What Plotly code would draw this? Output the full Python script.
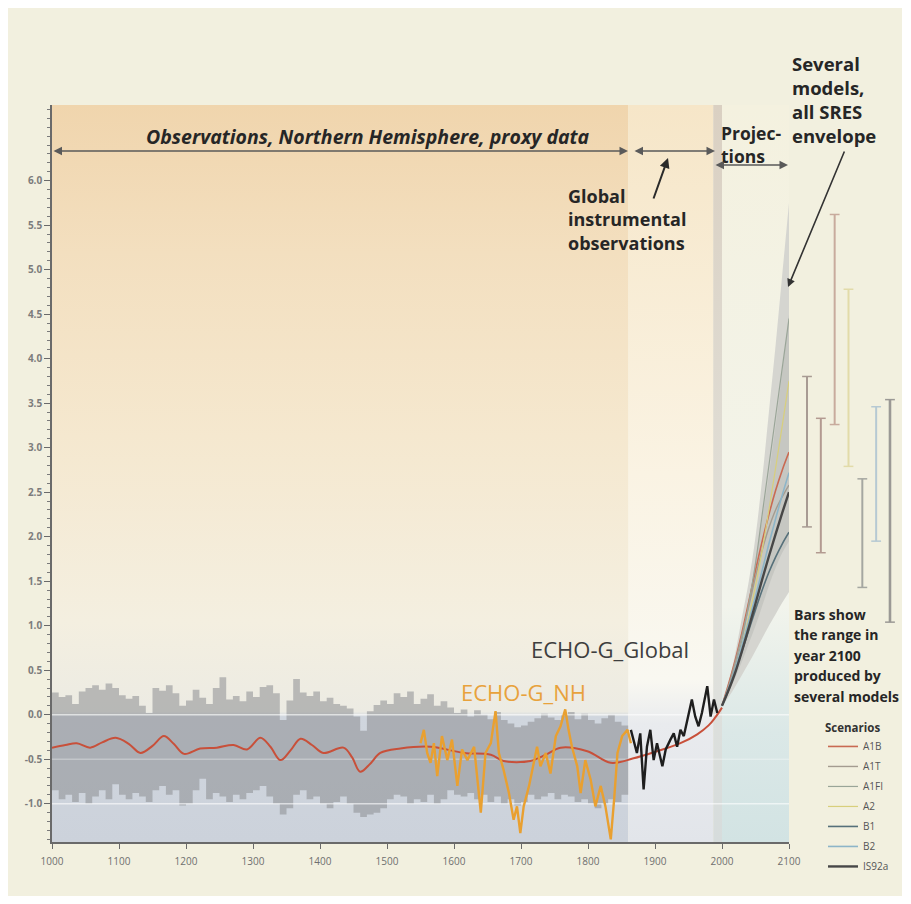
import plotly.graph_objects as go

# ---------------- data ----------------
PROXY_YEARS = list(range(1000, 1861, 10))
PROXY_UPPER = [
    0.25, 0.20, 0.22, 0.12, 0.26, 0.30, 0.33, 0.28, 0.35, 0.30,
    0.22, 0.18, 0.21, 0.10, 0.02, 0.30, 0.27, 0.33, 0.24, 0.10,
    0.16, 0.28, 0.19, 0.12, 0.30, 0.42, 0.17, 0.21, 0.15, 0.26,
    0.20, 0.31, 0.33, 0.24, -0.06, 0.16, 0.40, 0.25, 0.21, 0.26,
    0.15, 0.19, 0.12, 0.10, 0.07, -0.02, -0.18, 0.04, 0.11, 0.16,
    0.12, 0.24, 0.20, 0.26, 0.12, 0.18, 0.23, 0.10, 0.15, 0.08,
    0.02, 0.06, -0.02, 0.05, 0.00, -0.05, 0.03, -0.06, -0.10, -0.14,
    -0.12, -0.08, -0.04, 0.01, -0.03, -0.06, 0.00, 0.03, -0.05, 0.01,
    -0.06, -0.10, -0.04, 0.00, -0.08, -0.12, -0.15,
]
PROXY_LOWER = [
    -0.85, -0.95, -0.90, -0.98, -0.88, -1.00, -0.92, -0.85, -0.95, -0.78,
    -0.90, -0.95, -0.88, -0.92, -0.98, -0.85, -0.80, -0.90, -0.85, -1.02,
    -1.00, -0.85, -0.72, -0.95, -0.88, -0.92, -0.98, -0.90, -0.95, -0.88,
    -0.85, -0.80, -0.92, -1.00, -1.12, -1.05, -0.90, -0.85, -0.95, -0.92,
    -1.00, -1.05, -0.98, -0.92, -1.00, -1.10, -1.15, -1.12, -1.10, -1.05,
    -0.95, -0.90, -0.92, -1.00, -0.95, -0.98, -0.90, -1.00, -0.95, -0.85,
    -0.90, -0.92, -0.88, -0.95, -0.90, -0.98, -0.92, -1.00, -0.95, -1.02,
    -0.98, -0.90, -0.95, -0.92, -0.88, -0.95, -0.90, -0.92, -0.98, -0.95,
    -1.00, -1.05, -1.00, -0.95, -0.98, -0.90, -0.85,
]

RECON_YEARS = [1000, 1020, 1037, 1057, 1075, 1095, 1115, 1132, 1150, 1167,
               1182, 1197, 1221, 1246, 1271, 1291, 1311, 1326, 1341, 1356,
               1371, 1388, 1405, 1435, 1448, 1460, 1475, 1490, 1520, 1565,
               1615, 1655, 1674, 1714, 1737, 1759, 1799, 1834, 1868, 1903,
               1938, 1963, 1980, 1990, 2000]
RECON_VALUES = [-0.37, -0.34, -0.32, -0.37, -0.31, -0.26, -0.33, -0.43, -0.35, -0.24,
                -0.33, -0.44, -0.38, -0.37, -0.34, -0.39, -0.26, -0.36, -0.51, -0.40,
                -0.27, -0.34, -0.43, -0.37, -0.48, -0.64, -0.55, -0.43, -0.38, -0.36,
                -0.43, -0.45, -0.52, -0.52, -0.45, -0.37, -0.41, -0.54, -0.49, -0.41,
                -0.32, -0.22, -0.12, -0.03, 0.08]

NH_YEARS = [1550, 1555, 1560, 1565, 1570, 1575, 1582, 1590, 1597, 1605,
            1612, 1620, 1630, 1640, 1647, 1655, 1662, 1667, 1674, 1682,
            1689, 1694, 1699, 1704, 1712, 1719, 1724, 1729, 1737, 1744,
            1752, 1759, 1766, 1771, 1776, 1784, 1789, 1796, 1804, 1811,
            1819, 1826, 1834, 1839, 1844, 1851, 1859, 1864]
NH_VALUES = [-0.32, -0.17, -0.43, -0.54, -0.32, -0.69, -0.24, -0.51, -0.28, -0.80,
             -0.39, -0.51, -0.36, -1.10, -0.43, -0.32, 0.04, -0.43, -0.62, -0.88,
             -1.18, -1.03, -1.33, -1.03, -0.80, -0.54, -0.36, -0.58, -0.43, -0.66,
             -0.24, -0.13, 0.06, -0.17, -0.36, -0.58, -0.88, -0.51, -0.73, -1.03,
             -0.80, -1.03, -1.40, -0.95, -0.43, -0.24, -0.17, -0.32]

GLOBAL_YEARS = [1864, 1868, 1873, 1878, 1883, 1888, 1893, 1898, 1903, 1911,
                1916, 1923, 1928, 1933, 1938, 1943, 1948, 1955, 1960, 1965,
                1970, 1978, 1983, 1988, 1993]
GLOBAL_VALUES = [-0.17, -0.28, -0.43, -0.21, -0.84, -0.36, -0.17, -0.51, -0.32, -0.58,
                 -0.39, -0.28, -0.21, -0.36, -0.17, -0.24, -0.06, 0.17, -0.02, -0.13,
                 0.02, 0.32, -0.02, 0.17, 0.02]

PROJ_YEARS = [2000, 2010, 2020, 2030, 2040, 2050, 2060, 2070, 2080, 2090, 2100]
ENV_UPPER = [0.10, 0.35, 0.70, 1.10, 1.50, 2.00, 2.65, 3.40, 4.15, 4.95, 5.75]
ENV_LOWER = [0.10, 0.20, 0.32, 0.45, 0.58, 0.72, 0.86, 1.00, 1.13, 1.26, 1.38]
ENS_UPPER = [0.10, 0.30, 0.58, 0.92, 1.30, 1.72, 2.20, 2.70, 3.25, 3.85, 4.50]
ENS_LOWER = [0.10, 0.25, 0.42, 0.60, 0.80, 1.00, 1.22, 1.45, 1.65, 1.82, 1.95]

SCENARIOS = ["A1B", "A1T", "A1FI", "A2", "B1", "B2", "IS92a"]
A1B = [0.10, 0.35, 0.62, 0.93, 1.27, 1.62, 1.95, 2.25, 2.52, 2.75, 2.95]
A1T = [0.10, 0.33, 0.60, 0.90, 1.22, 1.55, 1.85, 2.10, 2.30, 2.45, 2.58]
A1FI = [0.10, 0.30, 0.55, 0.85, 1.25, 1.70, 2.25, 2.80, 3.35, 3.90, 4.45]
A2 = [0.10, 0.28, 0.50, 0.78, 1.10, 1.45, 1.85, 2.30, 2.77, 3.25, 3.75]
B1 = [0.10, 0.28, 0.50, 0.72, 0.95, 1.18, 1.40, 1.60, 1.77, 1.92, 2.05]
B2 = [0.10, 0.30, 0.52, 0.78, 1.05, 1.33, 1.62, 1.92, 2.20, 2.47, 2.72]
IS92A = [0.10, 0.28, 0.48, 0.72, 0.98, 1.25, 1.52, 1.78, 2.03, 2.27, 2.50]
SCEN_VALUES = [A1B, A1T, A1FI, A2, B1, B2, IS92A]

BAR_LOW = [2.11, 1.82, 3.26, 2.79, 1.43, 1.95, 1.04]
BAR_HIGH = [3.80, 3.33, 5.62, 4.78, 2.65, 3.46, 3.54]

Y_TICKS = [-1.0, -0.5, 0.0, 0.5, 1.0, 1.5, 2.0, 2.5, 3.0, 3.5, 4.0, 4.5, 5.0, 5.5, 6.0]
Y_TICK_LABELS = ["-1.0", "-0.5", "0.0", "0.5", "1.0", "1.5", "2.0", "2.5", "3.0",
                 "3.5", "4.0", "4.5", "5.0", "5.5", "6.0"]
X_TICKS = [1000, 1100, 1200, 1300, 1400, 1500, 1600, 1700, 1800, 1900, 2000, 2100]
X_TICK_LABELS = [str(v) for v in X_TICKS]

ERA_BOUNDS = [1000, 1860, 1987, 2000, 2100]
GRID_LEVELS = [0.0, -0.5, -1.0]

# ---------------- geometry (screen pixels; the page body adds an 8px margin) ----------------
OFF = 8
SCREEN_W, SCREEN_H = 911, 904
W, H = SCREEN_W - 2 * OFF, SCREEN_H - 2 * OFF
S_LEFT, S_TOP, S_BOTTOM, S_RIGHT = 52, 105, 842, 902
M_L, M_T = S_LEFT - OFF, S_TOP - OFF
M_B = (OFF + H) - S_BOTTOM
M_R = (OFF + W) - S_RIGHT
PLOT_W = S_RIGHT - S_LEFT
PLOT_H = S_BOTTOM - S_TOP
MAIN_PX = 737
Y_MIN, Y_MAX = -1.43, 6.85
BAR_PX0, BAR_STEP, BAR_AXIS_PX0 = 807, 13.83, 795
FONT = "Open Sans"


def px(sx):
    return (sx - S_LEFT) / PLOT_W


def py(sy):
    return (S_BOTTOM - sy) / PLOT_H


def yr(sx):
    return 1000 + (sx - S_LEFT) * 1100.0 / MAIN_PX


def val(sy):
    return Y_MAX - (sy - S_TOP) * (Y_MAX - Y_MIN) / PLOT_H


SCEN_COLORS = ["#c96a52", "#a49c90", "#9aa598", "#d8cf7c", "#56707a", "#8db5c8", "#474747"]
SCEN_WIDTHS = [1.6, 1.4, 1.2, 1.2, 1.6, 1.6, 2.4]
BAR_COLORS = ["#a89b93", "#b39a91", "#c8ab9d", "#e2dba9", "#a5a7a1", "#b6c9d3", "#9b9995"]
BAR_WIDTHS = [2, 2, 2, 2, 2, 2, 2.6]

BG_SCALES = [
    [[0, "#ccd2db"], [0.170, "#d0d6de"], [0.177, "#ecebe3"], [0.30, "#f4efe0"],
     [0.55, "#f5e8cf"], [0.80, "#f3dfbf"], [1, "#f0d5ad"]],
    [[0, "#e2e5ea"], [0.16, "#e9ebee"], [0.22, "#f9f8f1"], [0.5, "#faf3e3"], [1, "#f6e6c8"]],
    [[0, "#d6dcdc"], [0.3, "#e2e2dc"], [1, "#dad0c2"]],
    [[0, "#d2e3e3"], [0.15, "#dbe8e7"], [0.32, "#f2f4ec"], [1, "#f4f1df"]],
]

fig = go.Figure()

# background eras
for i, scale in enumerate(BG_SCALES):
    x0, x1 = ERA_BOUNDS[i], ERA_BOUNDS[i + 1]
    fig.add_trace(go.Scatter(
        x=[x0, x1, x1, x0, x0], y=[Y_MIN, Y_MIN, Y_MAX, Y_MAX, Y_MIN],
        mode="none", fill="toself",
        fillgradient=dict(type="vertical", colorscale=scale, start=Y_MIN, stop=Y_MAX),
        hoverinfo="skip", showlegend=False))

# proxy uncertainty band
fig.add_trace(go.Scatter(x=PROXY_YEARS, y=PROXY_LOWER, mode="lines", line=dict(width=0, shape="hv"),
                         hoverinfo="skip", showlegend=False))
fig.add_trace(go.Scatter(x=PROXY_YEARS, y=PROXY_UPPER, mode="lines", line=dict(width=0, shape="hv"),
                         fill="tonexty", fillcolor="rgba(140,142,146,0.55)",
                         hoverinfo="skip", showlegend=False))

# light grid lines
for lvl in GRID_LEVELS:
    fig.add_trace(go.Scatter(x=[ERA_BOUNDS[0], ERA_BOUNDS[-1]], y=[lvl, lvl], mode="lines",
                             line=dict(color="rgba(255,255,255,%s)" % (0.3 if lvl == -0.5 else 0.6), width=1.5),
                             hoverinfo="skip", showlegend=False))

# projection envelopes
fig.add_trace(go.Scatter(x=PROJ_YEARS, y=ENV_LOWER, mode="lines", line=dict(width=0, shape="spline"),
                         hoverinfo="skip", showlegend=False))
fig.add_trace(go.Scatter(x=PROJ_YEARS, y=ENV_UPPER, mode="lines", line=dict(width=0, shape="spline"),
                         fill="tonexty", fillcolor="#d5d5d0", hoverinfo="skip", showlegend=False))
fig.add_trace(go.Scatter(x=PROJ_YEARS, y=ENS_LOWER, mode="lines", line=dict(width=0, shape="spline"),
                         hoverinfo="skip", showlegend=False))
fig.add_trace(go.Scatter(x=PROJ_YEARS, y=ENS_UPPER, mode="lines", line=dict(width=0, shape="spline"),
                         fill="tonexty", fillcolor="#c6c7c2", hoverinfo="skip", showlegend=False))

# scenario lines
for name, vals, col, wid in zip(SCENARIOS, SCEN_VALUES, SCEN_COLORS, SCEN_WIDTHS):
    fig.add_trace(go.Scatter(x=PROJ_YEARS, y=vals, mode="lines", name=name, legendgroup=name,
                             line=dict(color=col, width=wid, shape="spline"), hoverinfo="skip"))

# reconstruction, ECHO-G
fig.add_trace(go.Scatter(x=RECON_YEARS, y=RECON_VALUES, mode="lines",
                         line=dict(color="#c8503a", width=2, shape="spline", smoothing=1.0),
                         hoverinfo="skip", showlegend=False))
fig.add_trace(go.Scatter(x=NH_YEARS, y=NH_VALUES, mode="lines",
                         line=dict(color="#e9a030", width=2.4), hoverinfo="skip", showlegend=False))
fig.add_trace(go.Scatter(x=GLOBAL_YEARS, y=GLOBAL_VALUES, mode="lines",
                         line=dict(color="#1e1e1e", width=2.4), hoverinfo="skip", showlegend=False))

# 2100 range bars
for name, lo, hi, col, wid in zip(SCENARIOS, BAR_LOW, BAR_HIGH, BAR_COLORS, BAR_WIDTHS):
    fig.add_trace(go.Scatter(x=[name, name], y=[lo, hi], xaxis="x2", yaxis="y", mode="lines+markers",
                             line=dict(color=col, width=wid),
                             marker=dict(symbol="line-ew", size=7, line=dict(color=col, width=1.5)),
                             hoverinfo="skip", showlegend=False))

# ---------------- annotations ----------------
ann = []


def text(sx, sy, s, size=18, color="#262626", anchor="left", bold=True, italic=False):
    t = s
    if bold:
        t = "<b>%s</b>" % t
    if italic:
        t = "<i>%s</i>" % t
    ann.append(dict(x=px(sx), y=py(sy), xref="paper", yref="paper", text=t, showarrow=False,
                    xanchor=anchor, yanchor="middle", align="left",
                    font=dict(family=FONT, size=size, color=color)))


def double_arrow(sx0, sx1, sy, color="#5a5a5a"):
    ann.append(dict(x=yr(sx1), y=val(sy), ax=yr(sx0), ay=val(sy), xref="x", yref="y",
                    axref="x", ayref="y", text="", showarrow=True, arrowside="end+start",
                    arrowhead=2, startarrowhead=2, arrowsize=1, startarrowsize=1,
                    arrowwidth=1.7, arrowcolor=color, standoff=0, startstandoff=0))


text(368, 136, "Observations, Northern Hemisphere, proxy data", size=19.5, anchor="center", italic=True)
double_arrow(52, 628, 151)
double_arrow(633, 715, 151)
double_arrow(714, 788, 165)

text(566, 220, "Global<br>instrumental<br>observations", size=18)
ann.append(dict(x=yr(668), y=val(158), ax=-15, ay=42, xref="x", yref="y", text="", showarrow=True,
                arrowhead=2, arrowsize=1, arrowwidth=2, arrowcolor="#2a2a2a", standoff=0))

text(719, 144, "Projec-<br>tions", size=17.5)

text(790, 99, "Several<br>models,<br>all SRES<br>envelope", size=18.5)
ann.append(dict(x=yr(788), y=val(287), ax=57, ay=-137, xref="x", yref="y", text="", showarrow=True,
                arrowhead=2, arrowsize=1, arrowwidth=1.6, arrowcolor="#333333", standoff=0))

for sy, s in zip([614, 634.5, 655, 675.5, 696],
                 ["Bars show", "the range in", "year 2100", "produced by", "several models"]):
    text(792, sy, s, size=14)

text(529, 649, "ECHO-G_Global", size=22, color="#3e3e3e", bold=False)
text(459, 692, "ECHO-G_NH", size=22, color="#e8a23c", bold=False)

# ---------------- layout ----------------
fig.update_layout(
    width=W, height=H,
    autosize=False,
    margin=dict(l=M_L, r=M_R, t=M_T, b=M_B, pad=0, autoexpand=False),
    paper_bgcolor="#ffffff",
    plot_bgcolor="rgba(0,0,0,0)",
    font=dict(family=FONT),
    xaxis=dict(domain=[0, MAIN_PX / PLOT_W], range=[ERA_BOUNDS[0], ERA_BOUNDS[-1]],
               tickmode="array", tickvals=X_TICKS, ticktext=X_TICK_LABELS,
               showline=True, linecolor="#6a6a6a", linewidth=1.6,
               ticks="outside", ticklen=5, tickwidth=1.2, tickcolor="#6a6a6a",
               ticklabelstandoff=4,
               tickfont=dict(family=FONT, size=10, color="#6f6f6f"),
               showgrid=False, zeroline=False, anchor="y", automargin=False),
    xaxis2=dict(domain=[px(BAR_AXIS_PX0), 1.0],
                range=[(BAR_AXIS_PX0 - BAR_PX0) / BAR_STEP, (S_RIGHT - BAR_PX0) / BAR_STEP],
                type="category", categoryorder="array", categoryarray=SCENARIOS,
                visible=False, anchor="y"),
    yaxis=dict(domain=[0, 1], range=[Y_MIN, Y_MAX], tickmode="array", tickvals=Y_TICKS,
               ticktext=Y_TICK_LABELS, showline=True, linecolor="#6a6a6a", linewidth=1.6,
               ticks="outside", ticklen=6, tickwidth=1.2, tickcolor="#6a6a6a",
               minor=dict(tickmode="linear", tick0=0, dtick=0.1, ticks="outside", ticklen=3,
                          tickwidth=1, tickcolor="#7a7a7a"),
               tickfont=dict(family=FONT, size=10, color="#7c7c7c", weight="bold"),
               showgrid=False, zeroline=False, automargin=False),
    legend=dict(x=px(823), y=py(717), xanchor="left", yanchor="top",
                bgcolor="rgba(0,0,0,0)", borderwidth=0,
                font=dict(family=FONT, size=10, color="#555555"),
                title=dict(text="<b>Scenarios</b>", font=dict(family=FONT, size=11.5, color="#333333")),
                traceorder="grouped", tracegroupgap=1, itemwidth=30),
    shapes=[dict(type="rect", xref="paper", yref="paper",
                 x0=px(OFF), x1=1.0, y0=py(OFF + H), y1=py(OFF),
                 fillcolor="#f2f0df", line=dict(width=0), layer="below")],
    annotations=ann,
    showlegend=True,
)

fig.write_html("out.html")
